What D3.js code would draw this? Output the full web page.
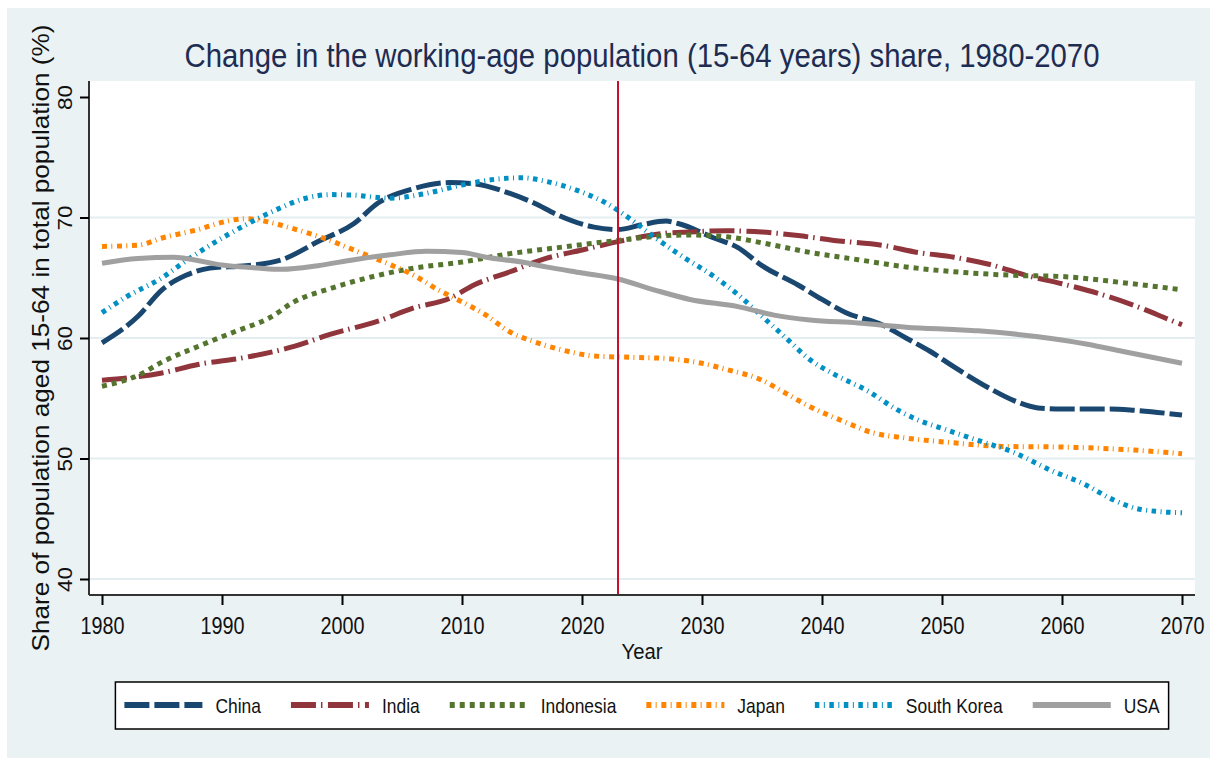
<!DOCTYPE html>
<html>
<head>
<meta charset="utf-8">
<script src="https://cdn.jsdelivr.net/npm/d3@7"></script>
<style>
  html, body { margin: 0; padding: 0; background: #fff; }
  svg { display: block; font-family: "Liberation Sans", Arial, Helvetica, sans-serif; }
</style>
</head>
<body>
<svg width="1210" height="758"></svg>
<script>
const xTicks = [1980, 1990, 2000, 2010, 2020, 2030, 2040, 2050, 2060, 2070];
const yTicks = [40, 50, 60, 70, 80];
const refYear = 2023;

// [year, share %]
const china = [[1980,59.6],[1983,61.8],[1985,64.0],[1987,65.2],[1989,65.8],[1992,66.0],[1995,66.5],[1998,68.0],[2001,69.5],[2003,71.2],[2006,72.4],[2009,72.9],[2011,72.8],[2014,72.0],[2016,71.2],[2018,70.2],[2021,69.2],[2023,69.0],[2025,69.4],[2027,69.7],[2028,69.5],[2031,68.3],[2033,67.5],[2035,66.0],[2038,64.4],[2040,63.2],[2042,62.1],[2045,61.1],[2047,60.0],[2049,58.9],[2051,57.6],[2054,55.8],[2056,54.8],[2058,54.2],[2060,54.1],[2064,54.1],[2066,54.0],[2070,53.6]];
const india = [[1980,56.5],[1985,57.1],[1988,57.8],[1992,58.4],[1996,59.3],[1999,60.3],[2003,61.4],[2006,62.5],[2009,63.3],[2011,64.4],[2014,65.5],[2017,66.6],[2020,67.3],[2023,68.0],[2027,68.7],[2029,68.8],[2032,68.9],[2035,68.8],[2038,68.5],[2041,68.1],[2045,67.7],[2048,67.1],[2051,66.7],[2054,66.1],[2057,65.2],[2060,64.5],[2063,63.7],[2066,62.7],[2069,61.5],[2070,61.1]];
const indonesia = [[1980,56.0],[1983,56.9],[1985,58.0],[1988,59.3],[1991,60.5],[1994,61.7],[1996,63.0],[1999,64.1],[2003,65.2],[2006,65.8],[2010,66.3],[2014,67.0],[2018,67.5],[2023,68.1],[2027,68.5],[2029,68.55],[2032,68.4],[2036,67.7],[2039,67.1],[2043,66.5],[2047,65.9],[2051,65.5],[2056,65.2],[2060,65.1],[2065,64.6],[2070,64.0]];
const japan = [[1980,67.6],[1983,67.7],[1985,68.3],[1988,69.0],[1990,69.6],[1992,69.9],[1994,69.6],[1996,69.05],[1999,68.1],[2001,67.3],[2004,66.1],[2006,65.2],[2008,64.0],[2010,63.0],[2012,61.9],[2014,60.5],[2016,59.7],[2019,58.85],[2021,58.5],[2024,58.4],[2027,58.3],[2030,57.9],[2032,57.4],[2035,56.5],[2037,55.4],[2039,54.3],[2042,53.0],[2044,52.2],[2047,51.7],[2051,51.3],[2055,51.0],[2060,50.95],[2066,50.7],[2070,50.4]];
const southKorea = [[1980,62.1],[1982,63.4],[1985,65.0],[1987,66.4],[1989,67.7],[1992,69.4],[1994,70.4],[1997,71.6],[1999,71.9],[2001,71.85],[2004,71.6],[2007,72.0],[2010,72.7],[2013,73.2],[2015,73.3],[2017,73.0],[2020,72.1],[2022,71.2],[2024,69.9],[2026,68.4],[2028,67.0],[2031,65.1],[2033,63.6],[2035,61.8],[2037,60.0],[2039,58.2],[2041,57.0],[2044,55.5],[2046,54.2],[2048,53.2],[2050,52.5],[2053,51.5],[2056,50.5],[2059,49.05],[2062,47.8],[2064,46.7],[2066,45.9],[2068,45.6],[2070,45.5]];
const usa = [[1980,66.2],[1983,66.6],[1986,66.7],[1987,66.6],[1990,66.05],[1993,65.8],[1995,65.7],[1998,66.0],[2001,66.5],[2004,66.9],[2007,67.2],[2010,67.1],[2012,66.7],[2015,66.3],[2017,65.9],[2020,65.4],[2023,64.9],[2026,64.0],[2029,63.2],[2033,62.6],[2036,61.9],[2039,61.5],[2043,61.25],[2047,60.9],[2051,60.7],[2053,60.6],[2058,60.1],[2062,59.5],[2065,58.9],[2070,57.9]];

const seriesNames = ["China", "India", "Indonesia", "Japan", "South Korea", "USA"];
const seriesData = [china, india, indonesia, japan, southKorea, usa];
const seriesColors = ["#1a476f", "#90353b", "#55752f", "#ff8400", "#0090c4", "#a0a0a0"];
const seriesDashes = ["25,5", "25,5,1.5,5.5", "5,5", "5,4.3,1,4.7", "4.5,4.5,1,4.5", null];

const svg = d3.select("svg");
const width = 1210, height = 758;
const plot = { left: 89, top: 81, right: 1195, bottom: 595 };

svg.append("rect")
  .attr("x", 7).attr("y", 8)
  .attr("width", width - 7).attr("height", height - 8)
  .attr("fill", "#eaf2f3");

svg.append("rect")
  .attr("x", plot.left).attr("y", plot.top)
  .attr("width", plot.right - plot.left).attr("height", plot.bottom - plot.top)
  .attr("fill", "#fff");

const x = d3.scaleLinear().domain([1980, 2070]).range([102, 1182]);
const y = d3.scaleLinear().domain([40, 80]).range([579, 97]);

// grid
svg.append("g")
  .selectAll("line")
  .data(yTicks.filter((v) => v < 80))
  .join("line")
  .attr("x1", plot.left).attr("x2", plot.right)
  .attr("y1", (d) => y(d)).attr("y2", (d) => y(d))
  .attr("stroke", "#e4eef0")
  .attr("stroke-width", 2);

// series
const line = d3.line()
  .x((d) => x(d[0]))
  .y((d) => y(d[1]))
  .curve(d3.curveMonotoneX);

svg.append("g")
  .selectAll("path")
  .data(seriesData)
  .join("path")
  .attr("d", line)
  .attr("fill", "none")
  .attr("stroke", (d, i) => seriesColors[i])
  .attr("stroke-width", 5)
  .attr("stroke-linecap", "butt")
  .attr("stroke-linejoin", "round")
  .attr("stroke-dasharray", (d, i) => seriesDashes[i]);

// reference year
svg.append("line")
  .attr("x1", x(refYear)).attr("x2", x(refYear))
  .attr("y1", plot.top).attr("y2", plot.bottom)
  .attr("stroke", "#c8102e")
  .attr("stroke-width", 2);

// axis lines
svg.append("line")
  .attr("x1", plot.left).attr("x2", plot.left)
  .attr("y1", plot.top).attr("y2", plot.bottom)
  .attr("stroke", "#333").attr("stroke-width", 2);
svg.append("line")
  .attr("x1", plot.left).attr("x2", plot.right)
  .attr("y1", plot.bottom).attr("y2", plot.bottom)
  .attr("stroke", "#333").attr("stroke-width", 2);

// x axis
const xAxis = svg.append("g")
  .attr("transform", `translate(0,${plot.bottom})`)
  .call(d3.axisBottom(x).tickValues(xTicks).tickFormat(d3.format("d")).tickSize(10).tickSizeOuter(0));
xAxis.attr("font-family", null).attr("font-size", null);
xAxis.select(".domain").remove();
xAxis.selectAll(".tick line").attr("stroke", "#000").attr("stroke-width", 2);
xAxis.selectAll(".tick text")
  .attr("y", 39).attr("dy", null)
  .attr("font-size", 24)
  .attr("fill", "#111")
  .attr("textLength", 44)
  .attr("lengthAdjust", "spacingAndGlyphs");

// y axis
const yAxis = svg.append("g")
  .attr("transform", `translate(${plot.left},0)`)
  .call(d3.axisLeft(y).tickValues(yTicks).tickSize(9).tickSizeOuter(0));
yAxis.attr("font-family", null).attr("font-size", null);
yAxis.select(".domain").remove();
yAxis.selectAll(".tick line").attr("stroke", "#000").attr("stroke-width", 2);
yAxis.selectAll(".tick text")
  .attr("x", 0).attr("y", -17).attr("dy", null)
  .attr("transform", "rotate(-90)")
  .attr("text-anchor", "middle")
  .attr("font-size", 21)
  .attr("fill", "#111")
  .attr("textLength", 25)
  .attr("lengthAdjust", "spacingAndGlyphs");

// titles
const midX = (plot.left + plot.right) / 2;
const midY = (plot.top + plot.bottom) / 2;

svg.append("text")
  .attr("x", midX).attr("y", 67)
  .attr("text-anchor", "middle")
  .attr("font-size", 33)
  .attr("fill", "#1e2c52")
  .attr("textLength", 915)
  .attr("lengthAdjust", "spacingAndGlyphs")
  .text("Change in the working-age population (15-64 years) share, 1980-2070");

svg.append("text")
  .attr("x", midX).attr("y", 659)
  .attr("text-anchor", "middle")
  .attr("font-size", 22)
  .attr("fill", "#111")
  .attr("textLength", 41)
  .attr("lengthAdjust", "spacingAndGlyphs")
  .text("Year");

svg.append("text")
  .attr("transform", `translate(49,${midY}) rotate(-90)`)
  .attr("text-anchor", "middle")
  .attr("font-size", 24)
  .attr("fill", "#111")
  .attr("textLength", 627)
  .attr("lengthAdjust", "spacingAndGlyphs")
  .text("Share of population aged 15-64 in total population (%)");

// legend
const legend = svg.append("g");
const legendBox = legend.append("rect")
  .attr("fill", "#fff")
  .attr("stroke", "#000")
  .attr("stroke-width", 1.5);

const keyLen = 78, keyGap = 13, itemGap = 30, pad = 9;
const legendMidY = 705;
const items = legend.selectAll("g.item")
  .data(seriesNames)
  .join("g")
  .attr("class", "item");

items.append("line")
  .attr("x1", 0).attr("x2", keyLen)
  .attr("y1", legendMidY).attr("y2", legendMidY)
  .attr("stroke", (d, i) => seriesColors[i])
  .attr("stroke-width", 6)
  .attr("stroke-dasharray", (d, i) => seriesDashes[i]);

const labels = items.append("text")
  .attr("x", keyLen + keyGap)
  .attr("y", legendMidY + 8)
  .attr("font-size", 21)
  .attr("fill", "#111")
  .text((d) => d);

const labelWidths = [];
labels.each(function () {
  const w = this.getComputedTextLength() * 0.83;
  d3.select(this).attr("textLength", w).attr("lengthAdjust", "spacingAndGlyphs");
  labelWidths.push(w);
});

const itemWidths = labelWidths.map((w) => keyLen + keyGap + w);
const totalWidth = d3.sum(itemWidths) + itemGap * (itemWidths.length - 1);
let cursor = midX - totalWidth / 2;
items.attr("transform", (d, i) => {
  const t = `translate(${cursor},0)`;
  cursor += itemWidths[i] + itemGap;
  return t;
});

legendBox
  .attr("x", midX - totalWidth / 2 - pad)
  .attr("y", 682)
  .attr("width", totalWidth + pad * 2)
  .attr("height", 47);
</script>
</body>
</html>
